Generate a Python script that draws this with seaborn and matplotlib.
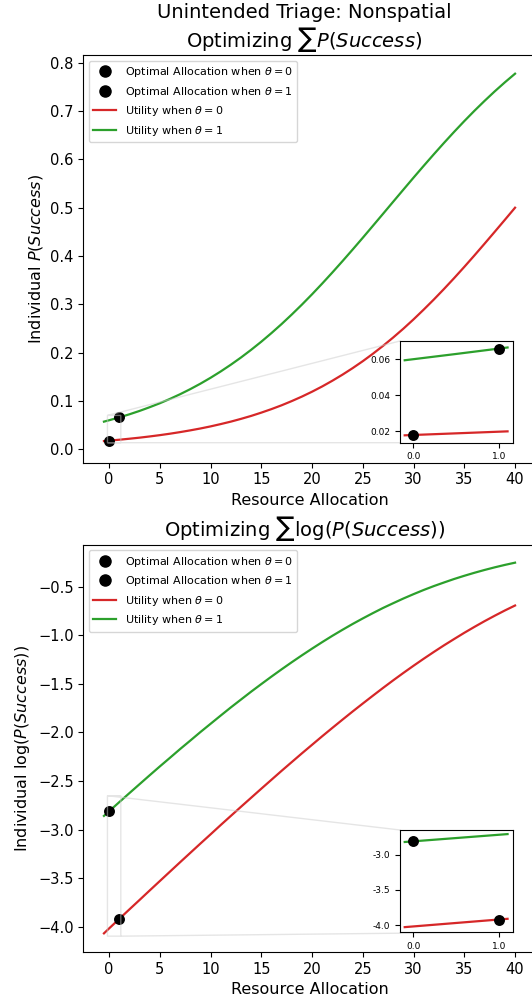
import matplotlib
matplotlib.use("Agg")
import matplotlib.pyplot as plt
from matplotlib.lines import Line2D
import seaborn as sns

plt.rcParams['font.family'] = ['DejaVu Sans']
plt.rcParams['mathtext.fontset'] = 'dejavusans'

# ---------------- data ----------------
alloc = [-0.5, 0, 1, 2, 3, 4, 5, 6, 7, 8, 9, 10, 11, 12, 13, 14, 15, 16, 17, 18, 19, 20,
         21, 22, 23, 24, 25, 26, 27, 28, 29, 30, 31, 32, 33, 34, 35, 36, 37, 38, 39, 40]
p_theta0 = [0.0171, 0.0180, 0.0198, 0.0219, 0.0241, 0.0266, 0.0293, 0.0323, 0.0356, 0.0392,
            0.0431, 0.0474, 0.0522, 0.0573, 0.0630, 0.0691, 0.0759, 0.0832, 0.0911, 0.0998,
            0.1091, 0.1192, 0.1301, 0.1419, 0.1545, 0.1680, 0.1824, 0.1978, 0.2142, 0.2315,
            0.2497, 0.2689, 0.2891, 0.3100, 0.3318, 0.3543, 0.3775, 0.4013, 0.4256, 0.4502,
            0.4750, 0.5000]
p_theta1 = [0.0573, 0.0601, 0.0660, 0.0724, 0.0794, 0.0871, 0.0953, 0.1043, 0.1140, 0.1245,
            0.1358, 0.1480, 0.1611, 0.1751, 0.1900, 0.2059, 0.2227, 0.2405, 0.2592, 0.2789,
            0.2994, 0.3208, 0.3430, 0.3659, 0.3894, 0.4134, 0.4378, 0.4626, 0.4875, 0.5125,
            0.5374, 0.5622, 0.5866, 0.6106, 0.6341, 0.6570, 0.6792, 0.7006, 0.7211, 0.7408,
            0.7595, 0.7773]
logp_theta0 = [-4.068, -4.018, -3.920, -3.822, -3.725, -3.627, -3.530, -3.433, -3.336, -3.240,
               -3.144, -3.049, -2.953, -2.859, -2.765, -2.672, -2.579, -2.487, -2.395, -2.305,
               -2.215, -2.127, -2.039, -1.953, -1.868, -1.784, -1.702, -1.621, -1.541, -1.463,
               -1.387, -1.313, -1.241, -1.171, -1.103, -1.038, -0.974, -0.913, -0.854, -0.798,
               -0.744, -0.693]
logp_theta1 = [-2.859, -2.812, -2.718, -2.625, -2.533, -2.441, -2.350, -2.261, -2.171, -2.084,
               -1.996, -1.911, -1.826, -1.742, -1.661, -1.580, -1.502, -1.425, -1.350, -1.277,
               -1.206, -1.137, -1.070, -1.005, -0.943, -0.883, -0.826, -0.771, -0.718, -0.669,
               -0.621, -0.576, -0.533, -0.493, -0.456, -0.420, -0.387, -0.356, -0.327, -0.300,
               -0.275, -0.252]

# inset curves
inset_alloc = [-0.1, 0.5, 1.1]
inset_p0 = [0.0178, 0.0189, 0.0200]
inset_p1 = [0.0595, 0.0630, 0.0666]
inset_logp0 = [-4.028, -3.969, -3.910]
inset_logp1 = [-2.821, -2.765, -2.709]

# optimal allocations (x, y) per panel
opt_top_x = [0, 1]
opt_top_y = [0.0180, 0.0660]
opt_bot_x = [0, 1]
opt_bot_y = [-2.812, -3.920]

opt_labels = [r'Optimal Allocation when $\theta = 0$', r'Optimal Allocation when $\theta = 1$']
util_labels = [r'Utility when $\theta = 0$', r'Utility when $\theta = 1$']

top_yticks = [0.0, 0.1, 0.2, 0.3, 0.4, 0.5, 0.6, 0.7, 0.8]
bot_yticks = [-4.0, -3.5, -3.0, -2.5, -2.0, -1.5, -1.0, -0.5]
xticks = [0, 5, 10, 15, 20, 25, 30, 35, 40]
inset_xticks = [0.0, 1.0]
inset_xticklabels = ['0.0', '1.0']
top_inset_yticks = [0.02, 0.04, 0.06]
top_inset_yticklabels = ['0.02', '0.04', '0.06']
bot_inset_yticks = [-4.0, -3.5, -3.0]
bot_inset_yticklabels = ['-4.0', '-3.5', '-3.0']

RED = '#d62728'
GREEN = '#2ca02c'

W, H = 532, 1006
fig = plt.figure(figsize=(W / 100, H / 100), dpi=100)

def px_axes(l, t, r, b):
    return fig.add_axes([l / W, 1 - b / H, (r - l) / W, (b - t) / H])

ax1 = px_axes(83.4, 55, 535.6, 462.7)
ax2 = px_axes(83.4, 544.7, 535.6, 952)
ins1 = px_axes(400, 341, 512.7, 442.7)
ins2 = px_axes(400, 830, 512.7, 932)

def draw_panel(ax, ins, y0, y1, ox, oy, iy0, iy1, ylim, yticks, ilim, iyt, iytl, ylabel, title, ylsize):
    sns.scatterplot(x=ox, y=oy, color='black', s=62, linewidth=0, ax=ax, zorder=3)
    sns.lineplot(x=alloc, y=y0, color=RED, lw=1.6, ax=ax, zorder=2)
    sns.lineplot(x=alloc, y=y1, color=GREEN, lw=1.6, ax=ax, zorder=2)
    ax.set_xlim(-2.525, 42.025)
    ax.set_ylim(*ylim)
    ax.set_xticks(xticks)
    ax.set_yticks(yticks)
    ax.tick_params(labelsize=10.5)
    ax.set_xlabel('Resource Allocation', fontsize=11.5)
    ax.set_ylabel(ylabel, fontsize=ylsize)
    ax.set_title(title, fontsize=14, x=0.488, linespacing=1.1)
    handles = [Line2D([], [], ls='none', marker='o', color='black', markersize=8),
               Line2D([], [], ls='none', marker='o', color='black', markersize=8),
               Line2D([], [], color=RED, lw=1.6),
               Line2D([], [], color=GREEN, lw=1.6)]
    ax.legend(handles, opt_labels + util_labels, loc='upper left', fontsize=8)

    sns.lineplot(x=inset_alloc, y=iy0, color=RED, lw=1.6, ax=ins)
    sns.lineplot(x=inset_alloc, y=iy1, color=GREEN, lw=1.6, ax=ins)
    sns.scatterplot(x=ox, y=oy, color='black', s=62, linewidth=0, ax=ins, zorder=3)
    ins.set_xlim(-0.155, 1.16)
    ins.set_ylim(*ilim)
    ins.set_xticks(inset_xticks)
    ins.set_xticklabels(inset_xticklabels)
    ins.set_yticks(iyt)
    ins.set_yticklabels(iytl)
    ins.tick_params(labelsize=6.5)
    ins.set_xlabel('')
    ins.set_ylabel('')
    ax.indicate_inset_zoom(ins, edgecolor='0.8', alpha=0.5)

draw_panel(ax1, ins1, p_theta0, p_theta1, opt_top_x, opt_top_y, inset_p0, inset_p1,
           (-0.0277, 0.816), top_yticks, (0.0137, 0.0702), top_inset_yticks, top_inset_yticklabels,
           r'Individual $P(Success)$',
           'Unintended Triage: Nonspatial\n' + r'Optimizing $\sum P(Success)$', 11.5)
draw_panel(ax2, ins2, logp_theta0, logp_theta1, opt_bot_x, opt_bot_y, inset_logp0, inset_logp1,
           (-4.26, -0.067), bot_yticks, (-4.097, -2.651), bot_inset_yticks, bot_inset_yticklabels,
           r'Individual $\log(P(Success))$',
           r'Optimizing $\sum\log(P(Success))$', 11.5)

fig.savefig('out.png', dpi=100)
